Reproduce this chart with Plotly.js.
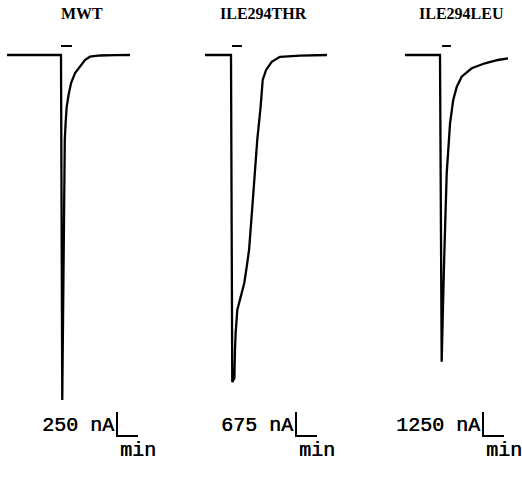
<!DOCTYPE html>
<html>
<head>
<meta charset="utf-8">
<script src="https://cdn.plot.ly/plotly-3.0.1.min.js"></script>
<style>
  html, body { margin: 0; padding: 0; background: #fff; }
  #chart { width: 522px; height: 485px; }
</style>
</head>
<body>
<div id="chart"></div>
<script>
// ---- Data (time in min, current in nA) ----
const panelTitles = ["MWT", "ILE294THR", "ILE294LEU"];

const time_MWT = [-2.57, 0, 0.06, 0.095, 0.11, 0.14, 0.18, 0.22, 0.27, 0.36, 0.48, 0.67, 0.9, 1.14, 1.38, 1.86, 2.57, 3.29];
const current_MWT = [0, 0, -3594, -2865, -2115, -1229, -885, -708, -542, -417, -292, -188, -122, -52, -18, -5, -2, 0];

const time_THR = [-1.24, 0, 0.06, 0.16, 0.19, 0.22, 0.30, 0.43, 0.56, 0.63, 0.75, 0.86, 1.04, 1.25, 1.41, 1.51, 1.67, 1.94, 2.33, 3.29, 4.57];
const current_THR = [0, 0, -9200, -9090, -8300, -7830, -7170, -6890, -6610, -6420, -5950, -5480, -4080, -2390, -1460, -700, -420, -190, -50, -15, 0];

const time_LEU = [-1.67, 0, 0.08, 0.12, 0.13, 0.20, 0.32, 0.48, 0.63, 0.80, 1.03, 1.51, 2.14, 2.76, 3.24];
const current_LEU = [0, 0, -15970, -14840, -13650, -10570, -6150, -3540, -2340, -1650, -1130, -690, -430, -260, -180];

// agonist application bars (min)
const stimStart = [0, 0.05, 0.1];
const stimEnd = [0.52, 0.52, 0.52];

// scale bars
const scaleNA = [250, 675, 1250];
const scaleLabels = ["250 nA", "675 nA", "1250 nA"];
const scaleMin = 1;
const scaleTimeLabel = "min";

// ---- Layout geometry (pixels) ----
const W = 522, H = 485;
const pxPerMin = 21;
const pxPerScale = 24;          // height of the vertical scale bar
const baselinePx = 55;
const panelEdges = [[0, 174], [174, 348], [348, 522]];
const onsetPx = [61, 231, 440];
const barCornerPx = [[117, 436], [296, 436], [483, 436]];
const titleX = [82, 263, 461];

const times = [time_MWT, time_THR, time_LEU];
const currents = [current_MWT, current_THR, current_LEU];

const data = [];
const layout = {
  width: W, height: H,
  margin: {l: 0, r: 0, t: 0, b: 0},
  paper_bgcolor: "#fff", plot_bgcolor: "#fff",
  showlegend: false,
  shapes: [], annotations: []
};

const monoFont = {family: "Liberation Mono, Courier New, monospace", size: 20, color: "#000",
                  shadow: "0.6px 0 0 #000"};

for (let i = 0; i < 3; i++) {
  const sfx = i === 0 ? "" : String(i + 1);
  const nAperPx = scaleNA[i] / pxPerScale;
  const [e0, e1] = panelEdges[i];
  layout["xaxis" + sfx] = {
    domain: [e0 / W, e1 / W],
    range: [(e0 - onsetPx[i]) / pxPerMin, (e1 - onsetPx[i]) / pxPerMin],
    visible: false, fixedrange: true
  };
  layout["yaxis" + sfx] = {
    domain: [0, 1],
    anchor: "x" + sfx,
    range: [-(H - baselinePx) * nAperPx, baselinePx * nAperPx],
    visible: false, fixedrange: true
  };
  data.push({
    type: "scatter", mode: "lines",
    x: times[i], y: currents[i],
    xaxis: "x" + sfx, yaxis: "y" + sfx,
    line: {color: "#000", width: 2.3},
    hoverinfo: "skip"
  });
  // stimulus bar
  layout.shapes.push({
    type: "line", xref: "x" + sfx, yref: "paper",
    x0: stimStart[i], x1: stimEnd[i],
    y0: 1 - 46 / H, y1: 1 - 46 / H,
    line: {color: "#000", width: 2}
  });
  // scale bar (L shape) in data units
  const cx = (barCornerPx[i][0] - onsetPx[i]) / pxPerMin;
  const cy = -(barCornerPx[i][1] - baselinePx) * nAperPx;
  layout.shapes.push({
    type: "path", xref: "x" + sfx, yref: "y" + sfx,
    path: `M ${cx} ${cy + scaleNA[i]} L ${cx} ${cy} L ${cx + scaleMin} ${cy}`,
    line: {color: "#000", width: 2}
  });
  // labels
  layout.annotations.push({
    text: scaleLabels[i], xref: "paper", yref: "paper",
    x: (barCornerPx[i][0] - 1) / W, y: 1 - 425 / H,
    xanchor: "right", yanchor: "middle", showarrow: false,
    font: monoFont
  });
  layout.annotations.push({
    text: scaleTimeLabel, xref: "paper", yref: "paper",
    x: (barCornerPx[i][0] + 1) / W, y: 1 - 450 / H,
    xanchor: "left", yanchor: "middle", showarrow: false,
    font: monoFont
  });
  layout.annotations.push({
    text: "<b>" + panelTitles[i] + "</b>", xref: "paper", yref: "paper",
    x: titleX[i] / W, y: 1 - 13 / H,
    xanchor: "center", yanchor: "middle", showarrow: false,
    font: {family: "Liberation Serif, Times New Roman, serif", size: 16, color: "#000"}
  });
}

Plotly.newPlot("chart", data, layout, {displayModeBar: false, staticPlot: true});
</script>
</body>
</html>
